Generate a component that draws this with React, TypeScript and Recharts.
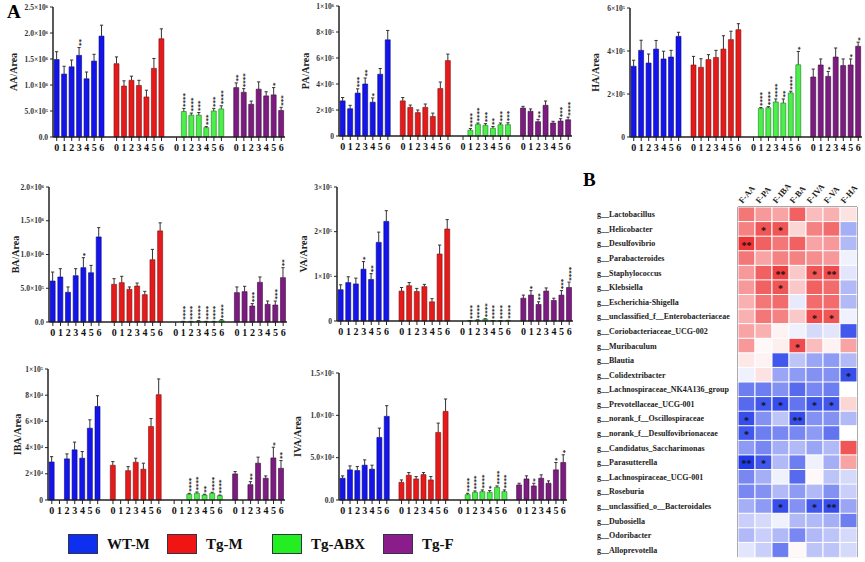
import React from 'react';
import { BarChart, Bar, XAxis, YAxis, Cell, LabelList, CartesianGrid } from 'recharts';

const FONT = "'Liberation Serif', 'Times New Roman', serif";

const GROUPS = ['WT-M', 'Tg-M', 'Tg-ABX', 'Tg-F'];
const DAYS = ['0', '1', '2', '3', '4', '5', '6'];
const FILLS = ['#1414ec', '#e61a1a', '#4cee4c', '#7c1c80'];
const EDGES = ['#0a0a7a', '#7a1010', '#1a7a1a', '#3a0a3c'];
const LEGEND_FILLS = ['#0f2ff0', '#f01414', '#22ee22', '#8c1c8c'];

const NONE = ['', '', '', '', '', '', ''];

// AA, x10^6
const AA_MEAN = [
  [1.49, 1.21, 1.35, 1.57, 1.12, 1.46, 1.94],
  [1.41, 0.98, 1.09, 0.99, 0.77, 1.32, 1.89],
  [null, 0.49, 0.42, 0.42, 0.18, 0.5, 0.54],
  [0.95, 0.86, 0.63, 0.92, 0.79, 0.81, 0.51],
];
const AA_ERR = [
  [0.15, 0.15, 0.13, 0.15, 0.13, 0.13, 0.21],
  [0.13, 0.1, 0.08, 0.1, 0.13, 0.19, 0.19],
  [null, 0.06, 0.04, 0.05, 0.02, 0.05, 0.06],
  [0.09, 0.07, 0.06, 0.14, 0.08, 0.14, 0.06],
];
const AA_SIG = [
  ['', '', '', '**', '', '', ''],
  NONE,
  ['', '****', '****', '***', '***', '***', '****'],
  ['**', '****', '', '', '', '*', '***'],
];
const AA_TICKS = [0, 0.5, 1, 1.5, 2, 2.5];
const AA_TICK_LABELS = ['0.0', '5.0×10⁵', '1.0×10⁶', '1.5×10⁶', '2.0×10⁶', '2.5×10⁶'];

// PA, x10^5
const PA_MEAN = [
  [2.7, 2.1, 3.3, 4.0, 2.6, 4.75, 7.4],
  [2.7, 2.2, 1.8, 2.2, 1.5, 3.65, 5.8],
  [null, 0.44, 0.9, 0.82, 0.6, 0.87, 0.87],
  [2.15, 1.9, 1.1, 2.36, 1.0, 1.15, 1.25],
];
const PA_ERR = [
  [0.26, 0.26, 0.33, 0.46, 0.33, 0.44, 0.72],
  [0.26, 0.18, 0.2, 0.26, 0.26, 0.5, 0.5],
  [null, 0.13, 0.1, 0.13, 0.13, 0.13, 0.15],
  [0.13, 0.18, 0.18, 0.33, 0.13, 0.18, 0.2],
];
const PA_SIG = [
  ['', '', '***', '**', '*', '', ''],
  NONE,
  ['', '****', '****', '***', '**', '***', '***'],
  ['', '', '**', '', '', '***', '****'],
];
const PA_TICKS = [0, 2, 4, 6, 8, 10];
const PA_TICK_LABELS = ['0', '2×10⁵', '4×10⁵', '6×10⁵', '8×10⁵', '1×10⁶'];

// HA, x10^5
const HA_MEAN = [
  [3.29, 4.03, 3.44, 4.09, 3.63, 3.72, 4.68],
  [3.35, 3.24, 3.6, 3.7, 4.09, 4.53, 4.99],
  [null, 1.32, 1.36, 1.63, 1.58, 2.05, 3.36],
  [2.79, 3.35, 2.82, 3.72, 3.32, 3.35, 4.22],
];
const HA_ERR = [
  [0.28, 0.47, 0.42, 0.4, 0.36, 0.31, 0.19],
  [0.4, 0.4, 0.23, 0.33, 0.62, 0.39, 0.28],
  [null, 0.05, 0.05, 0.14, 0.19, 0.08, 0.62],
  [0.37, 0.28, 0.23, 0.42, 0.31, 0.28, 0.19],
];
const HA_SIG = [
  NONE,
  NONE,
  ['', '****', '****', '****', '**', '****', '*'],
  ['', '', '*', '', '', '*', '*'],
];
const HA_TICKS = [0, 2, 4, 6];
const HA_TICK_LABELS = ['0', '2×10⁵', '4×10⁵', '6×10⁵'];

// BA, x10^5
const BA_MEAN = [
  [6.07, 6.67, 4.4, 6.86, 8.05, 7.3, 12.6],
  [5.58, 5.83, 4.84, 5.33, 4.05, 9.23, 13.5],
  [null, 0.05, 0.05, 0.12, 0.05, 0.05, 0.25],
  [4.35, 4.5, 2.37, 5.88, 2.62, 2.52, 6.57],
];
const BA_ERR = [
  [1.33, 1.23, 0.79, 1.04, 1.48, 1.09, 1.38],
  [0.84, 0.94, 0.35, 0.44, 0.49, 1.53, 1.19],
  [null, 0.05, 0.05, 0.08, 0.05, 0.05, 0.1],
  [0.84, 0.79, 0.35, 0.79, 0.49, 0.59, 1.48],
];
const BA_SIG = [
  ['', '', '', '', '*', '', ''],
  NONE,
  ['', '****', '****', '****', '****', '****', '****'],
  ['', '', '***', '', '', '***', '**'],
];
const BA_TICKS = [0, 5, 10, 15, 20];
const BA_TICK_LABELS = ['0.0', '5.0×10⁵', '1.0×10⁶', '1.5×10⁶', '2.0×10⁶'];

// VA, x10^5
const VA_MEAN = [
  [0.7, 0.86, 0.83, 1.16, 0.93, 1.76, 2.23],
  [0.67, 0.79, 0.66, 0.77, 0.43, 1.5, 2.06],
  [null, 0.005, 0.02, 0.04, 0.005, 0.005, 0.01],
  [0.51, 0.58, 0.37, 0.67, 0.46, 0.58, 0.75],
];
const VA_ERR = [
  [0.11, 0.13, 0.13, 0.17, 0.13, 0.23, 0.24],
  [0.08, 0.07, 0.07, 0.05, 0.07, 0.2, 0.21],
  [null, 0.005, 0.005, 0.01, 0.005, 0.005, 0.005],
  [0.07, 0.1, 0.06, 0.07, 0.05, 0.1, 0.12],
];
const VA_SIG = [
  ['', '', '', '*', '**', '', ''],
  NONE,
  ['', '****', '****', '****', '****', '****', '****'],
  ['', '*', '**', '', '', '***', '****'],
];
const VA_TICKS = [0, 1, 2, 3];
const VA_TICK_LABELS = ['0', '1×10⁵', '2×10⁵', '3×10⁵'];

// IBA, x10^4
const IBA_MEAN = [
  [2.9, null, 3.14, 3.83, 3.19, 5.48, 7.14],
  [2.65, null, 2.24, 2.88, 2.35, 5.61, 8.04],
  [null, null, 0.43, 0.51, 0.38, 0.51, 0.33],
  [1.99, null, 1.17, 2.81, 1.66, 3.21, 2.42],
];
const IBA_ERR = [
  [0.41, null, 0.38, 0.59, 0.51, 0.64, 0.82],
  [0.28, null, 0.31, 0.31, 0.46, 0.61, 1.2],
  [null, null, 0.08, 0.1, 0.06, 0.08, 0.05],
  [0.18, null, 0.23, 0.46, 0.18, 0.82, 0.59],
];
const IBA_SIG = [
  NONE,
  NONE,
  ['', '', '****', '****', '**', '****', '****'],
  ['', '', '**', '', '', '*', '**'],
];
const IBA_TICKS = [0, 2, 4, 6, 8, 10];
const IBA_TICK_LABELS = ['0', '2×10⁴', '4×10⁴', '6×10⁴', '8×10⁴', '1×10⁵'];

// IVA, x10^4
const IVA_MEAN = [
  [2.57, 3.56, 3.48, 4.11, 3.64, 7.39, 9.88],
  [2.09, 2.92, 2.49, 3.0, 2.37, 7.98, 10.47],
  [null, 0.63, 0.91, 0.99, 0.91, 1.5, 0.99],
  [1.78, 2.49, 1.66, 2.57, 1.98, 3.56, 4.43],
];
const IVA_ERR = [
  [0.28, 0.47, 0.47, 0.63, 0.47, 1.1, 1.26],
  [0.28, 0.32, 0.28, 0.24, 0.4, 1.1, 1.46],
  [null, 0.16, 0.16, 0.2, 0.2, 0.16, 0.2],
  [0.2, 0.36, 0.32, 0.4, 0.28, 0.87, 0.91],
];
const IVA_SIG = [
  NONE,
  NONE,
  ['', '****', '****', '****', '*', '****', '****'],
  ['', '', '*', '', '', '*', '*'],
];
const IVA_TICKS = [0, 5, 10, 15];
const IVA_TICK_LABELS = ['0.0', '5.0×10⁴', '1.0×10⁵', '1.5×10⁵'];

// heatmap (panel B)
const HM_COLS = ['F-AA', 'F-PA', 'F-IBA', 'F-BA', 'F-IVA', 'F-VA', 'F-HA'];
const HM_ROWS = [
  'g__Lactobacillus',
  'g__Helicobacter',
  'g__Desulfovibrio',
  'g__Parabacteroides',
  'g__Staphylococcus',
  'g__Klebsiella',
  'g__Escherichia-Shigella',
  'g__unclassified_f__Enterobacteriaceae',
  'g__Coriobacteriaceae_UCG-002',
  'g__Muribaculum',
  'g__Blautia',
  'g__Colidextribacter',
  'g__Lachnospiraceae_NK4A136_group',
  'g__Prevotellaceae_UCG-001',
  'g__norank_f__Oscillospiraceae',
  'g__norank_f__Desulfovibrionaceae',
  'g__Candidatus_Saccharimonas',
  'g__Parasutterella',
  'g__Lachnospiraceae_UCG-001',
  'g__Roseburia',
  'g__unclassified_o__Bacteroidales',
  'g__Dubosiella',
  'g__Odoribacter',
  'g__Alloprevotella',
];
const HM_VALUES = [
  [0.55, 0.4, 0.35, 0.65, 0.25, 0.3, 0.1],
  [0.5, 0.7, 0.7, 0.15, 0.5, 0.6, -0.35],
  [0.85, 0.65, 0.55, 0.65, 0.35, 0.4, -0.3],
  [0.55, 0.35, 0.5, 0.5, 0.45, 0.4, -0.05],
  [0.4, 0.65, 0.8, 0.2, 0.7, 0.75, -0.1],
  [0.4, 0.65, 0.7, 0.2, 0.65, 0.6, -0.3],
  [0.3, 0.55, 0.6, -0.08, 0.6, 0.6, -0.3],
  [0.3, 0.55, 0.5, 0.2, 0.75, 0.7, -0.05],
  [0.35, 0.3, 0.04, -0.05, -0.15, -0.1, -0.8],
  [0.4, 0.02, 0.05, 0.75, 0.25, 0.04, 0.35],
  [0.08, 0.04, -0.8, -0.25, -0.4, -0.45, -0.3],
  [-0.05, 0.1, -0.4, -0.45, -0.5, -0.5, -0.85],
  [-0.6, -0.6, -0.5, -0.7, -0.55, -0.6, 0.0],
  [-0.7, -0.8, -0.85, -0.65, -0.8, -0.8, 0.15],
  [-0.85, -0.5, -0.25, -0.85, -0.5, -0.5, -0.3],
  [-0.8, -0.6, -0.55, -0.55, -0.45, -0.65, 0.0],
  [-0.45, -0.55, -0.35, -0.3, -0.4, -0.3, 0.7],
  [-0.95, -0.8, -0.3, -0.6, -0.05, -0.35, 0.35],
  [-0.55, -0.35, -0.05, -0.7, 0.02, -0.25, -0.15],
  [-0.55, -0.5, -0.3, -0.45, -0.3, -0.5, -0.2],
  [-0.35, -0.45, -0.85, -0.5, -0.8, -0.85, -0.4],
  [-0.2, -0.15, -0.05, -0.3, -0.3, -0.35, -0.6],
  [-0.3, -0.2, -0.3, -0.55, -0.3, -0.25, -0.15],
  [-0.1, -0.2, -0.6, 0.02, -0.25, -0.25, -0.15],
];
const HM_SIG = [
  NONE,
  ['', '*', '*', '', '', '', ''],
  ['**', '', '', '', '', '', ''],
  NONE,
  ['', '', '**', '', '*', '**', ''],
  ['', '', '*', '', '', '', ''],
  NONE,
  ['', '', '', '', '*', '*', ''],
  NONE,
  ['', '', '', '*', '', '', ''],
  NONE,
  ['', '', '', '', '', '', '*'],
  NONE,
  ['', '*', '*', '', '*', '*', ''],
  ['*', '', '', '**', '', '', ''],
  ['*', '', '', '', '', '', ''],
  NONE,
  ['**', '*', '', '', '', '', ''],
  NONE,
  NONE,
  ['', '', '*', '', '*', '**', ''],
  NONE,
  NONE,
  NONE,
];

const PANELS = [
  { label: 'AA/Area', mean: AA_MEAN, err: AA_ERR, sig: AA_SIG, ticks: AA_TICKS, tickLabels: AA_TICK_LABELS, labelX: 13, axisX: 53, topY: 7, baseY: 137, rightX: 285 },
  { label: 'PA/Area', mean: PA_MEAN, err: PA_ERR, sig: PA_SIG, ticks: PA_TICKS, tickLabels: PA_TICK_LABELS, labelX: 305, axisX: 339, topY: 6, baseY: 136, rightX: 572 },
  { label: 'HA/Area', mean: HA_MEAN, err: HA_ERR, sig: HA_SIG, ticks: HA_TICKS, tickLabels: HA_TICK_LABELS, labelX: 595, axisX: 630, topY: 8, baseY: 137, rightX: 862 },
  { label: 'BA/Area', mean: BA_MEAN, err: BA_ERR, sig: BA_SIG, ticks: BA_TICKS, tickLabels: BA_TICK_LABELS, labelX: 15, axisX: 49, topY: 187, baseY: 322, rightX: 287 },
  { label: 'VA/Area', mean: VA_MEAN, err: VA_ERR, sig: VA_SIG, ticks: VA_TICKS, tickLabels: VA_TICK_LABELS, labelX: 303, axisX: 337, topY: 187, baseY: 321, rightX: 573 },
  { label: 'IBA/Area', mean: IBA_MEAN, err: IBA_ERR, sig: IBA_SIG, ticks: IBA_TICKS, tickLabels: IBA_TICK_LABELS, labelX: 17, axisX: 48, topY: 369, baseY: 500, rightX: 285 },
  { label: 'IVA/Area', mean: IVA_MEAN, err: IVA_ERR, sig: IVA_SIG, ticks: IVA_TICKS, tickLabels: IVA_TICK_LABELS, labelX: 297, axisX: 339, topY: 373, baseY: 500, rightX: 567 },
];

const LEGEND_X = [68, 167, 272, 383];

function buildRows(mean, err, sig) {
  const rows = [];
  GROUPS.forEach((_, g) => {
    DAYS.forEach((day, d) => {
      rows.push({ key: `${g}-${d}`, day, g, v: mean[g][d], e: err[g][d], s: sig[g][d] });
    });
    if (g < GROUPS.length - 1) rows.push({ key: `gap${g}`, day: '', g: -1, v: null, e: null, s: '' });
  });
  return rows;
}

const DayTick = (props: any) => {
  const { x, y, payload } = props;
  const key = String(payload.value);
  if (key.startsWith('gap')) return null;
  const day = key.split('-')[1];
  return (
    <g>
      <line x1={x} x2={x} y1={y} y2={y + 4} stroke="#222" strokeWidth={1} />
      <text x={x} y={y + 14} textAnchor="middle" fontSize={10} fontWeight="bold" fontFamily={FONT} fill="#111">
        {day}
      </text>
    </g>
  );
};

const Whisker = (props: any) => {
  const { x, y, width, height, payload } = props;
  if (!payload || payload.e == null || payload.v == null) return <g />;
  const cx = x + width / 2;
  return (
    <g stroke="#333" strokeWidth={1}>
      <line x1={cx} x2={cx} y1={y + height} y2={y} />
      <line x1={cx - 1.6} x2={cx + 1.6} y1={y} y2={y} />
    </g>
  );
};

const Stars = (props: any) => {
  const { x, y, width, value } = props;
  if (!value) return null;
  const cx = Number(x) + Number(width) / 2 + 1.5;
  const ty = Number(y) - 1.5;
  return (
    <text
      x={cx}
      y={ty}
      transform={`rotate(-90 ${cx} ${ty})`}
      textAnchor="start"
      dominantBaseline="central"
      fontSize={7}
      fontWeight="bold"
      fontFamily={FONT}
      fill="#222"
    >
      {value}
    </text>
  );
};

function AcidPanel({ p }: { p: any }) {
  const rows = buildRows(p.mean, p.err, p.sig);
  const left = p.labelX - 10;
  const top = p.topY - 5;
  const width = p.rightX - left + 4;
  const height = p.baseY - top + 22;
  const max = p.ticks[p.ticks.length - 1];
  return (
    <div style={{ position: 'absolute', left, top }}>
      <BarChart width={width} height={height} data={rows} margin={{ top: 5, right: 4, bottom: 0, left: 0 }} barCategoryGap="15%">
        <XAxis
          dataKey="key"
          interval={0}
          tickLine={false}
          tickSize={0}
          tickMargin={0}
          height={22}
          tick={<DayTick />}
          axisLine={{ stroke: '#222', strokeWidth: 1.5 }}
        />
        <YAxis
          width={p.axisX - left}
          domain={[0, max]}
          ticks={p.ticks}
          interval={0}
          tickFormatter={(v, i) => p.tickLabels[i]}
          tickSize={3}
          tickMargin={2}
          axisLine={{ stroke: '#222', strokeWidth: 1.5 }}
          tickLine={{ stroke: '#222', strokeWidth: 1 }}
          tick={{ fontSize: 7.5, fontWeight: 'bold', fontFamily: FONT, fill: '#333' }}
          label={{
            value: p.label,
            angle: -90,
            position: 'insideLeft',
            offset: 10,
            style: { textAnchor: 'middle', fontFamily: FONT, fontWeight: 'bold', fontSize: 10, fill: '#222' },
          }}
        />
        <Bar dataKey="v" stackId="s" isAnimationActive={false} strokeWidth={0.6}>
          {rows.map((r) => (
            <Cell key={r.key} fill={r.g >= 0 ? FILLS[r.g] : 'none'} stroke={r.g >= 0 ? EDGES[r.g] : 'none'} />
          ))}
        </Bar>
        <Bar dataKey="e" stackId="s" isAnimationActive={false} shape={<Whisker />}>
          <LabelList dataKey="s" content={<Stars />} />
        </Bar>
      </BarChart>
    </div>
  );
}

function heat(v: number) {
  const t = Math.pow(Math.min(1, Math.abs(v)), 0.9);
  const c = v >= 0 ? [236, 22, 24] : [24, 50, 232];
  const mix = c.map((k) => Math.round(255 + (k - 255) * t));
  return `rgb(${mix[0]},${mix[1]},${mix[2]})`;
}

const ColTick = (props: any) => {
  const { x, y, payload } = props;
  const label = HM_COLS[Math.floor(payload.value)];
  const tx = x - 4;
  const ty = y - 3;
  return (
    <text x={tx} y={ty} transform={`rotate(-50 ${tx} ${ty})`} textAnchor="start" fontSize={8.5} fontWeight="bold" fontFamily={FONT} fill="#222">
      {label}
    </text>
  );
};

const RowTick = (props: any) => {
  const { x, y, payload } = props;
  return (
    <text x={x - 141} y={y + 3} textAnchor="start" fontSize={8} fontWeight="bold" fontFamily={FONT} fill="#222">
      {payload.value}
    </text>
  );
};

const CellStar = (props: any) => {
  const { x, y, width, height, value } = props;
  if (!value) return null;
  return (
    <text x={Number(x) + Number(width) / 2} y={Number(y) + Number(height) / 2 + 5} textAnchor="middle" fontSize={10} fontWeight="bold" fontFamily={FONT} fill="#111">
      {value}
    </text>
  );
};

function Heatmap() {
  const rows = HM_ROWS.map((name, i) => {
    const r: any = { name };
    HM_COLS.forEach((_, j) => {
      r[`c${j}`] = 1;
      r[`s${j}`] = HM_SIG[i][j];
    });
    return r;
  });
  return (
    <div style={{ position: 'absolute', left: 590, top: 172 }}>
      <BarChart layout="vertical" width={270} height={387} data={rows} margin={{ top: 0, right: 3, bottom: 2, left: 0 }} barCategoryGap={0}>
        <CartesianGrid
          stroke="#555"
          strokeWidth={2}
          verticalCoordinatesGenerator={({ offset }: any) => [offset.left, offset.left + offset.width]}
          horizontalCoordinatesGenerator={({ offset }: any) => [offset.top, offset.top + offset.height]}
        />
        <XAxis
          type="number"
          orientation="top"
          domain={[0, HM_COLS.length]}
          ticks={HM_COLS.map((_, j) => j + 0.5)}
          interval={0}
          tick={<ColTick />}
          axisLine={false}
          tickLine={false}
          tickSize={0}
          tickMargin={0}
          height={35}
        />
        <YAxis type="category" dataKey="name" width={148} axisLine={false} tickLine={false} tickSize={0} tickMargin={0} interval={0} tick={<RowTick />} />
        {HM_COLS.map((c, j) => (
          <Bar key={c} dataKey={`c${j}`} stackId="h" isAnimationActive={false} stroke="#fff" strokeWidth={1}>
            {HM_VALUES.map((vals, i) => (
              <Cell key={i} fill={heat(vals[j])} />
            ))}
            <LabelList dataKey={`s${j}`} content={<CellStar />} />
          </Bar>
        ))}
      </BarChart>
    </div>
  );
}

export default function App() {
  return (
    <div style={{ position: 'absolute', left: 0, top: 0, width: 865, height: 562, background: '#fff', fontFamily: FONT, overflow: 'hidden' }}>
      {PANELS.map((p) => (
        <AcidPanel key={p.label} p={p} />
      ))}
      <Heatmap />
      <div style={{ position: 'absolute', left: 7, top: 2, fontSize: 19, fontWeight: 'bold', lineHeight: '20px' }}>A</div>
      <div style={{ position: 'absolute', left: 583, top: 170, fontSize: 19, fontWeight: 'bold', lineHeight: '20px' }}>B</div>
      {GROUPS.map((g, i) => (
        <div key={g} style={{ position: 'absolute', left: LEGEND_X[i], top: 534, display: 'flex', alignItems: 'center' }}>
          <div style={{ width: 28, height: 18, background: LEGEND_FILLS[i], border: '1.5px solid #334' }} />
          <span style={{ marginLeft: 9, fontSize: 15, fontWeight: 'bold', color: '#111' }}>{g}</span>
        </div>
      ))}
    </div>
  );
}
